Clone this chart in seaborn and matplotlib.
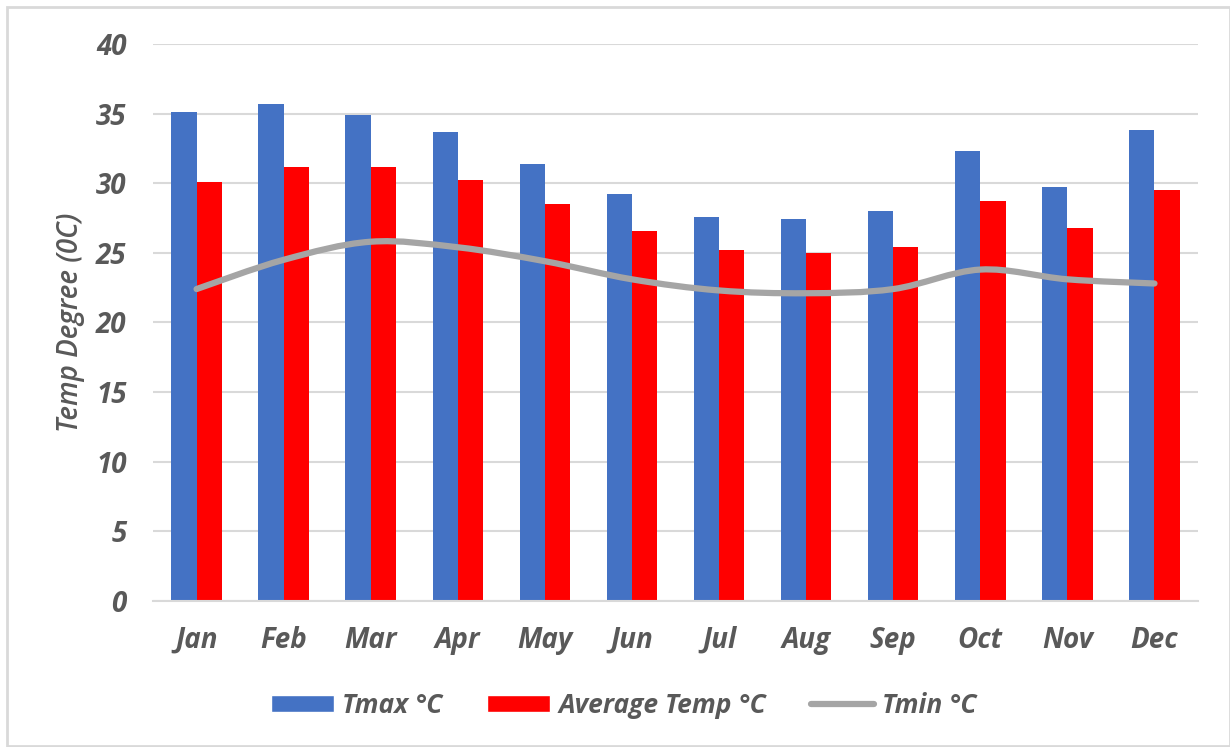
import numpy as np
import pandas as pd
import matplotlib.pyplot as plt
import seaborn as sns
from matplotlib.path import Path
from matplotlib.patches import PathPatch, Rectangle
from matplotlib.lines import Line2D
from matplotlib.patches import Patch

# Monthly temperatures
months = ['Jan', 'Feb', 'Mar', 'Apr', 'May', 'Jun', 'Jul', 'Aug', 'Sep', 'Oct', 'Nov', 'Dec']
tmax = [35.1, 35.7, 34.9, 33.7, 31.4, 29.2, 27.6, 27.4, 28.0, 32.3, 29.7, 33.8]
tavg = [30.1, 31.2, 31.2, 30.2, 28.5, 26.6, 25.2, 25.0, 25.4, 28.7, 26.8, 29.5]
tmin = [22.4, 24.5, 25.8, 25.4, 24.4, 23.1, 22.3, 22.1, 22.4, 23.8, 23.1, 22.8]

series_names = ['Tmax °C', 'Average Temp °C', 'Tmin °C']
colors = {'Tmax °C': '#4472c4', 'Average Temp °C': '#ff0000', 'Tmin °C': '#a5a5a5'}
text_color = '#595959'

sns.set_theme(style='white')
plt.rcParams['font.family'] = ['Open Sans', 'DejaVu Sans']

# long-form table for the bars
df = pd.DataFrame({
    'month': months * 2,
    'temp': tmax + tavg,
    'series': [series_names[0]] * 12 + [series_names[1]] * 12,
})

fig = plt.figure(figsize=(12.3, 7.47), dpi=100)
ax = fig.add_axes([0.1244, 0.1955, 0.8496, 0.7456])

sns.barplot(data=df, x='month', y='temp', hue='series', order=months,
            hue_order=series_names[:2], palette=colors, width=0.58,
            gap=0, linewidth=0, saturation=1, errorbar=None, legend=False, ax=ax)

# smoothed Tmin line (Excel-style smooth curve through the points)
xs = np.arange(len(months), dtype=float)
ys = np.array(tmin, dtype=float)
verts = [(xs[0], ys[0])]
codes = [Path.MOVETO]
n = len(xs)
for i in range(n - 1):
    p0 = np.array([xs[max(i - 1, 0)], ys[max(i - 1, 0)]])
    p1 = np.array([xs[i], ys[i]])
    p2 = np.array([xs[i + 1], ys[i + 1]])
    p3 = np.array([xs[min(i + 2, n - 1)], ys[min(i + 2, n - 1)]])
    c1 = p1 + (p2 - p0) / 6.0
    c2 = p2 - (p3 - p1) / 6.0
    verts += [tuple(c1), tuple(c2), tuple(p2)]
    codes += [Path.CURVE4] * 3
ax.add_patch(PathPatch(Path(verts, codes), facecolor='none',
                       edgecolor=colors['Tmin °C'], lw=4.5,
                       capstyle='round', joinstyle='round', zorder=4))

ax.set_ylim(0, 40)
ax.set_xlim(-0.5, 11.5)
ax.set_yticks(range(0, 41, 5))
ax.yaxis.grid(True, color='#d9d9d9', lw=1.5)
ax.set_axisbelow(True)
for s in ['top', 'right', 'left']:
    ax.spines[s].set_visible(False)
ax.spines['bottom'].set_color('#d9d9d9')
ax.spines['bottom'].set_linewidth(1.5)
ax.tick_params(axis='both', length=0, labelsize=20, labelcolor=text_color)
ax.tick_params(axis='y', pad=19)
ax.tick_params(axis='x', pad=18)
for lab in ax.get_xticklabels() + ax.get_yticklabels():
    lab.set_fontstyle('italic')
    lab.set_fontweight('bold')

ax.set_xlabel('')
ax.set_ylabel('Temp Degree (0C)', fontsize=20, fontstyle='italic',
              fontweight='semibold', color=text_color, labelpad=8)

handles = [Patch(facecolor=colors[series_names[0]]),
           Patch(facecolor=colors[series_names[1]]),
           Line2D([0], [0], color=colors['Tmin °C'], lw=4.5, solid_capstyle='round')]
leg = fig.legend(handles, series_names, loc='center', bbox_to_anchor=(0.507, 0.056),
                 ncol=3, frameon=False, handlelength=2.4, handleheight=0.6,
                 handletextpad=0.3, columnspacing=1.7,
                 prop={'size': 19, 'style': 'italic', 'weight': 'bold'})
for t in leg.get_texts():
    t.set_color(text_color)

# light border around the chart
fig.patches.append(Rectangle((0.006, 0.002), 0.994, 0.989, transform=fig.transFigure,
                             fill=False, edgecolor='#d9d9d9', lw=2))

fig.savefig('out.png', dpi=100)
